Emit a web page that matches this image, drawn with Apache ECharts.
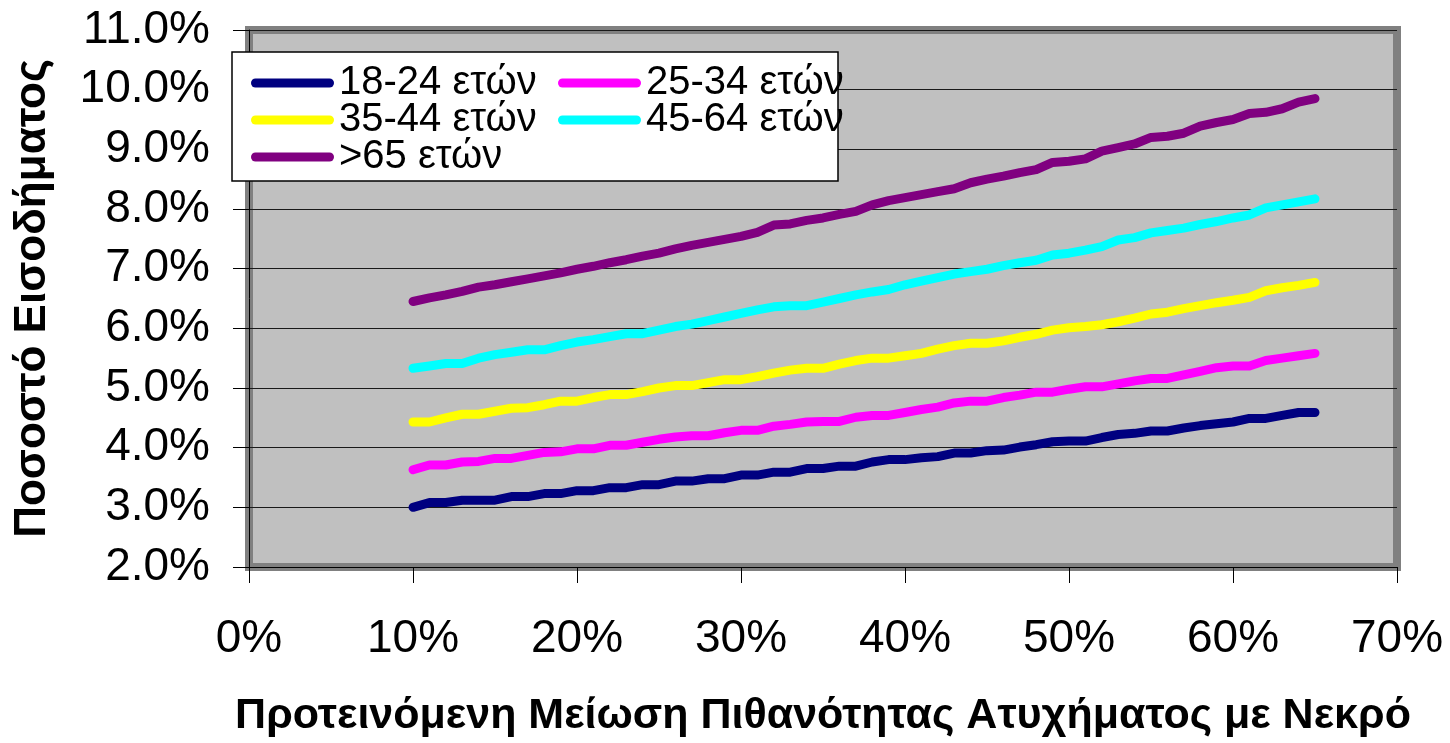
<!DOCTYPE html>
<html>
<head>
<meta charset="utf-8">
<script src="https://cdn.jsdelivr.net/npm/echarts@6/dist/echarts.min.js"></script>
<style>
html,body{margin:0;padding:0;background:#fff;}
#c{width:1450px;height:743px;}
</style>
</head>
<body>
<div id="c"></div>
<script>
// x: proposed reduction in probability of fatal accident (%)
const reduction = [10,11,12,13,14,15,16,17,18,19,20,21,22,23,24,25,26,27,28,29,30,31,32,33,34,35,36,37,
  38,39,40,41,42,43,44,45,46,47,48,49,50,51,52,53,54,55,56,57,58,59,60,61,62,63,64,65];

const seriesNames = ['18-24 ετών','25-34 ετών','35-44 ετών','45-64 ετών','>65 ετών'];
const seriesColors = ['#000080','#FF00FF','#FFFF00','#00FFFF','#800080'];

// income share (%) per age group
const age18_24 = [3.00,3.08,3.08,3.12,3.12,3.12,3.18,3.18,3.23,3.23,3.28,3.28,3.33,3.33,3.38,3.38,3.44,3.44,3.48,3.48,
  3.54,3.54,3.59,3.59,3.65,3.65,3.69,3.69,3.76,3.80,
  3.80,3.83,3.85,3.91,3.91,3.95,3.96,4.01,4.05,4.10,4.11,4.11,4.17,4.22,4.24,4.28,4.28,4.33,4.37,4.40,
  4.43,4.49,4.49,4.54,4.59,4.59];
const age25_34 = [3.63,3.71,3.71,3.76,3.77,3.82,3.82,3.87,3.92,3.93,3.98,3.98,4.04,4.04,4.09,4.14,4.18,4.20,4.20,4.25,
  4.29,4.29,4.36,4.39,4.43,4.44,4.44,4.51,4.54,4.54,
  4.59,4.64,4.68,4.75,4.78,4.78,4.84,4.88,4.93,4.93,4.98,5.02,5.02,5.07,5.12,5.16,5.16,5.22,5.28,5.34,
  5.37,5.37,5.46,5.50,5.54,5.58];
const age35_44 = [4.43,4.43,4.50,4.56,4.56,4.61,4.66,4.67,4.72,4.78,4.78,4.84,4.89,4.89,4.94,5.00,5.04,5.04,5.09,5.14,
  5.14,5.19,5.25,5.30,5.33,5.33,5.40,5.46,5.50,5.50,
  5.54,5.58,5.65,5.71,5.75,5.75,5.79,5.85,5.90,5.97,6.01,6.03,6.06,6.11,6.17,6.24,6.27,6.33,6.38,6.43,
  6.47,6.52,6.63,6.68,6.72,6.77];
const age45_64 = [5.33,5.37,5.41,5.41,5.50,5.56,5.60,5.64,5.64,5.71,5.77,5.81,5.86,5.91,5.91,5.97,6.03,6.07,6.13,6.19,
  6.25,6.31,6.36,6.38,6.38,6.44,6.50,6.56,6.61,6.65,
  6.73,6.79,6.85,6.91,6.95,6.99,7.05,7.10,7.14,7.23,7.26,7.31,7.37,7.48,7.52,7.60,7.64,7.68,7.74,7.79,
  7.85,7.90,8.02,8.07,8.12,8.17];
const age65plus = [6.45,6.51,6.56,6.62,6.69,6.73,6.78,6.83,6.88,6.93,6.99,7.04,7.10,7.15,7.21,7.26,7.33,7.39,7.44,7.49,
  7.54,7.61,7.73,7.75,7.81,7.85,7.91,7.96,
  8.07,8.14,8.19,8.24,8.29,8.34,8.44,8.50,8.55,8.61,8.66,8.78,8.80,8.84,8.97,9.03,9.09,9.20,9.22,9.27,
  9.39,9.45,9.50,9.60,9.62,9.68,9.79,9.85];

const allValues = [age18_24, age25_34, age35_44, age45_64, age65plus];

const FONT = "'Liberation Sans', Arial, sans-serif";
const capsule = 'path://M4.5,0 L78.5,0 A4.5,4.5 0 0 1 78.5,9 L4.5,9 A4.5,4.5 0 0 1 4.5,0 Z';

const chart = echarts.init(document.getElementById('c'), null, {renderer:'canvas'});

const series = seriesNames.map((name, i) => ({
  name: name,
  type: 'line',
  symbol: 'none',
  showSymbol: false,
  color: seriesColors[i],
  lineStyle: {width: 9, color: seriesColors[i], cap: 'round', join: 'round'},
  data: reduction.map((x, j) => [x, allValues[i][j]]),
  z: 5
}));

const legendCommon = {
  orient: 'vertical',
  top: 58,
  itemWidth: 83,
  itemHeight: 9,
  itemGap: -3,
  icon: capsule,
  itemStyle: {borderWidth: 0},
  textStyle: {fontFamily: FONT, fontSize: 40, color: '#000'},
  z: 20
};

chart.setOption({
  animation: false,
  backgroundColor: '#fff',
  grid: {
    left: 249, top: 30, right: 53, bottom: 174,
    show: true,
    backgroundColor: '#C0C0C0',
    borderColor: '#808080',
    borderWidth: 8
  },
  graphic: [{
    type: 'rect',
    z: 10,
    shape: {x: 232, y: 52, width: 606, height: 129},
    style: {fill: '#fff', stroke: '#000', lineWidth: 1.5}
  }],
  legend: [
    Object.assign({}, legendCommon, {left: 246, data: [seriesNames[0], seriesNames[2], seriesNames[4]]}),
    Object.assign({}, legendCommon, {left: 553, data: [seriesNames[1], seriesNames[3]]})
  ],
  xAxis: {
    type: 'value',
    min: 0, max: 70, interval: 10,
    name: 'Προτεινόμενη Μείωση Πιθανότητας Ατυχήματος με Νεκρό',
    nameLocation: 'middle',
    nameGap: 128,
    nameTextStyle: {fontFamily: FONT, fontSize: 43, fontWeight: 'bold', color: '#000'},
    axisLine: {show: true, onZero: false, lineStyle: {color: '#000', width: 1}},
    axisTick: {show: true, length: 16, inside: false, lineStyle: {color: '#000', width: 1}},
    axisLabel: {margin: 49, fontFamily: FONT, fontSize: 46, color: '#000', formatter: v => v + '%'},
    splitLine: {show: false}
  },
  yAxis: {
    type: 'value',
    min: 2, max: 11, interval: 1,
    name: 'Ποσοστό Εισοδήματος',
    nameLocation: 'middle',
    nameRotate: 90,
    nameGap: 194,
    nameTextStyle: {fontFamily: FONT, fontSize: 44, fontWeight: 'bold', color: '#000'},
    axisLine: {show: true, lineStyle: {color: '#000', width: 1}},
    axisTick: {show: true, length: 16, inside: false, lineStyle: {color: '#000', width: 1}},
    axisLabel: {margin: 39, fontFamily: FONT, fontSize: 46, color: '#000', formatter: v => v.toFixed(1) + '%'},
    splitLine: {show: true, lineStyle: {color: '#1a1a1a', width: 1}}
  },
  series: series
});
</script>
</body>
</html>
